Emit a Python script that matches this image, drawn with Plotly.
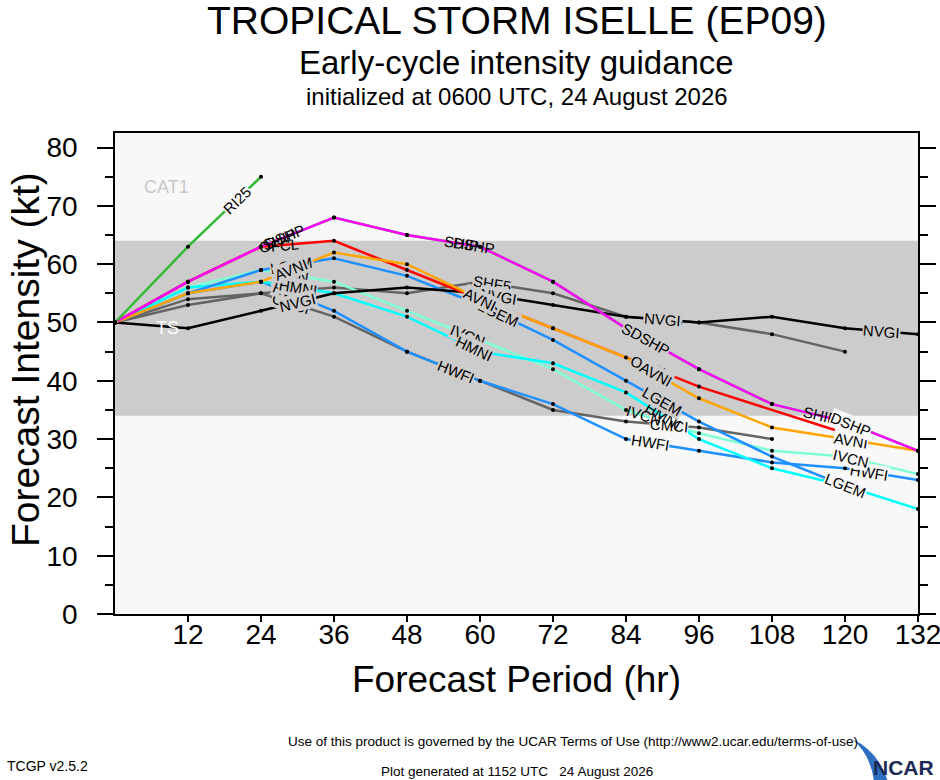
import numpy as np
import plotly.graph_objects as go

# --------------------------
# Datos (kt) por modelo
# --------------------------
hrs_full = [0, 12, 24, 36, 48, 60, 72, 84, 96, 108, 120, 132]

ri25_hr = [0, 12, 24]
ri25 = [50, 63, 75]

ship = [50, 57, 63, 68, 65, 63, 57, 49, 42, 36, 33, 28]
dshp = [50, 57, 63, 68, 65, 63, 57, 49, 42, 36, 33, 28]

ofcl_hr = [0, 12, 24, 36, 48, 60, 72, 96, 120]
ofcl = [50, 57, 63, 64, 59, 54, 49, 39, 31]

avni = [50, 55, 57, 62, 60, 54, 49, 44, 37, 32, 30, 28]

lgem_hr = [0, 12, 24, 36, 48, 60, 72, 84, 96, 108, 120]
lgem = [50, 55, 59, 61, 58, 53, 47, 40, 33, 27, 22]

ivcn = [50, 56, 59, 57, 52, 47, 42, 35, 31, 28, 27, 24]
hmni = [50, 56, 57, 55, 51, 45, 43, 38, 30, 25, 22, 18]
hwfi = [50, 55, 57, 52, 45, 40, 36, 30, 28, 26, 25, 23]

cmci_hr = [0, 12, 24, 36, 48, 60, 72, 84, 96, 108]
cmci = [50, 53, 55, 51, 45, 40, 35, 33, 32, 30]

shf5_hr = [0, 12, 24, 36, 48, 60, 72, 84, 96, 108, 120]
shf5 = [50, 54, 55, 56, 55, 57, 55, 51, 50, 48, 45]

nvgi = [50, 49, 52, 55, 56, 55, 53, 51, 50, 51, 49, 48]

x_ticks = [12, 24, 36, 48, 60, 72, 84, 96, 108, 120, 132]
y_ticks = [0, 10, 20, 30, 40, 50, 60, 70, 80]

# --------------------------
# Modelos: (nombre, horas, valores, color, horas de etiqueta)
# orden = orden de dibujo
# --------------------------
modelos = [
    ("SHF5", shf5_hr, shf5, "#646464", [29, 62, 90]),
    ("CMCI", cmci_hr, cmci, "#646464", [29, 56, 91]),
    ("HWFI", hrs_full, hwfi, "#1e90ff", [29, 56, 88, 124]),
    ("IVCN", hrs_full, ivcn, "#7fffd4", [29, 58, 87, 121]),
    ("HMNI", hrs_full, hmni, "#00ffff", [30, 59, 90, 120]),
    ("LGEM", lgem_hr, lgem, "#1e90ff", [29, 63, 90, 120]),
    ("NVGI", hrs_full, nvgi, "#000000", [30, 63, 90, 126]),
    ("SHIP", hrs_full, ship, "#22dd22", [27, 57, 86, 116]),
    ("OFCL", ofcl_hr, ofcl, "#ff0000", [27, 88]),
    ("AVNI", hrs_full, avni, "#ffa500", [29, 60, 89, 121]),
    ("DSHP", hrs_full, dshp, "#ff00ff", [28, 59, 88, 121]),
    ("RI25", ri25_hr, ri25, "#33bb33", [20]),
]

PX_HR = 803 / 132.0
PX_KT = 481 / 82.5
BAND_LO, BAND_HI = 34, 64
F = "Liberation Sans"

fig = go.Figure()

# banda de tormenta tropical
fig.add_shape(type="rect", xref="x", yref="y", x0=0, x1=132, y0=BAND_LO, y1=BAND_HI,
              fillcolor="#cccccc", line=dict(width=0), layer="below")

for nombre, hr, val, color, _ in modelos:
    fig.add_trace(go.Scatter(x=hr, y=val, mode="lines", line=dict(color=color, width=2.5),
                             name=nombre, showlegend=False, hoverinfo="skip"))

for nombre, hr, val, color, _ in modelos:
    fig.add_trace(go.Scatter(x=hr, y=val, mode="markers", marker=dict(color="black", size=4),
                             showlegend=False, hoverinfo="skip"))

# etiquetas sobre las líneas (el fondo simula el hueco de la línea)
for nombre, hr, val, color, lab_hrs in modelos:
    for h in lab_hrs:
        if h > hr[-1]:
            continue
        yv = float(np.interp(h, hr, val))
        i = max(1, int(np.searchsorted(hr, h)))
        i = min(i, len(hr) - 1)
        slope = (val[i] - val[i - 1]) * PX_KT / ((hr[i] - hr[i - 1]) * PX_HR)
        ang = -np.degrees(np.arctan(slope))
        if BAND_LO + 1 <= yv <= BAND_HI - 1:
            bg = "#cccccc"
        elif yv > BAND_HI + 1 or yv < BAND_LO - 1:
            bg = "#f8f8f8"
        else:
            bg = None
        fig.add_annotation(x=h, y=yv, xref="x", yref="y", text=nombre, showarrow=False,
                           textangle=ang, bgcolor=bg, borderpad=0,
                           font=dict(family=F, size=15, color="black"))

fig.add_annotation(x=8.5, y=73.3, text="CAT1", showarrow=False,
                   font=dict(family=F, size=18, color="#c8c8c8"))
fig.add_annotation(x=8.7, y=49, text="TS", showarrow=False,
                   font=dict(family=F, size=18, color="white"))

# --------------------------
# Textos de cabecera y pie
# --------------------------
textos = [
    ("TROPICAL STORM ISELLE (EP09)", 0.5, 1.233, 39, F),
    ("Early-cycle intensity guidance", 0.5, 1.146, 33, F),
    ("initialized at 0600 UTC, 24 August 2026", 0.5, 1.075, 24, F),
    ("Forecast Period (hr)", 0.5, -0.137, 37, F),
    ("Use of this product is governed by the UCAR Terms of Use (http://www2.ucar.edu/terms-of-use)",
     0.57, -0.266, 13.5, F),
    ("Plot generated at 1152 UTC   24 August 2026", 0.5, -0.328, 13.5, F),
]
for t, x, y, s, fam in textos:
    fig.add_annotation(x=x, y=y, xref="paper", yref="paper", text=t, showarrow=False,
                       xanchor="center", yanchor="middle", font=dict(family=fam, size=s, color="black"))

fig.add_annotation(x=-0.112, y=0.528, xref="paper", yref="paper", text="Forecast Intensity (kt)",
                   showarrow=False, textangle=-90, xanchor="center", yanchor="middle",
                   font=dict(family=F, size=39, color="black"))
fig.add_annotation(x=-0.137, y=-0.315, xref="paper", yref="paper", text="TCGP v2.5.2",
                   showarrow=False, xanchor="left", yanchor="middle",
                   font=dict(family=F, size=14, color="black"))
fig.add_annotation(x=1.022, y=-0.32, xref="paper", yref="paper", text="<b>NCAR</b>",
                   showarrow=False, xanchor="right", yanchor="middle",
                   font=dict(family=F, size=21, color="#1b2a57"))
fig.add_shape(type="path", xref="paper", yref="paper",
              path="M 0.918 -0.26 Q 0.95 -0.285 0.962 -0.345 L 0.945 -0.345 Q 0.94 -0.29 0.918 -0.26 Z",
              fillcolor="#2d6fc0", line=dict(width=0))

fig.update_layout(
    width=940, height=780,
    margin=dict(l=115, r=22, t=133, b=166, autoexpand=False),
    paper_bgcolor="white",
    plot_bgcolor="#f8f8f8",
    xaxis=dict(range=[0, 132], tickvals=x_ticks, ticks="outside", ticklen=6, tickwidth=1.5,
               tickcolor="black", showgrid=False, zeroline=False, showline=True, linecolor="black",
               linewidth=1.5, mirror=True, automargin=False, ticklabelstandoff=-11,
               ticklabeloverflow="allow",
               tickfont=dict(family=F, size=28, color="black")),
    yaxis=dict(range=[0, 82.5], tickvals=y_ticks, ticks="outside", ticklen=16, tickwidth=1.5,
               tickcolor="black", showgrid=False, zeroline=False, showline=True, linecolor="black",
               linewidth=1.5, mirror="ticks", automargin=False, ticklabelstandoff=14,
               tickfont=dict(family=F, size=28, color="black"),
               minor=dict(dtick=5, ticks="outside", ticklen=8, tickcolor="black", tickwidth=1.5)),
)

fig.write_html("out.html", config={"displayModeBar": False},
               post_script="document.body.style.margin='0';")
